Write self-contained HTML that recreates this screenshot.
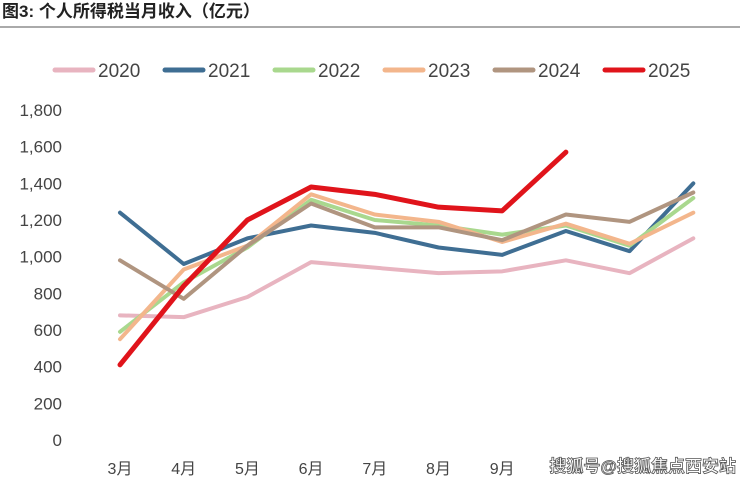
<!DOCTYPE html>
<html><head><meta charset="utf-8"><style>
body{margin:0;background:#fff;width:740px;height:483px;overflow:hidden;font-family:"Liberation Sans","Noto Sans CJK SC",sans-serif}
</style></head><body>
<svg id="chart" width="740" height="483" xmlns="http://www.w3.org/2000/svg">
<text x="2" y="17" font-size="17" font-weight="bold" fill="#222" font-family="Liberation Sans, Noto Sans CJK SC, sans-serif">图3:  个人所得税当月收入（亿元）</text>
<line x1="0" y1="27" x2="740" y2="27" stroke="#555" stroke-width="1"/>
<g id="legend"></g>
<g id="yaxis"></g>
<g id="xaxis"></g>
<g id="series"></g>
<rect x="540" y="452" width="200" height="26" fill="#fff"/>
<text x="736" y="472" text-anchor="end" font-size="17" font-weight="bold" fill="#fff" stroke="#555" stroke-width="0.8">搜狐号@搜狐焦点西安站</text>
</svg>
<script>
const categories=["3月","4月","5月","6月","7月","8月","9月","10月","11月","12月"];
const yTicks=[0,200,400,600,800,1000,1200,1400,1600,1800];
const seriesNames=["2020","2021","2022","2023","2024","2025"];
const seriesColors=["#e8b4c0","#3f6e93","#a9d88e","#f3b68c","#b09580","#e0141b"];
const s2020=[680,670,780,970,940,910,920,980,910,1100];
const s2021=[1240,960,1100,1170,1130,1050,1010,1140,1030,1400];
const s2022=[590,860,1050,1310,1200,1170,1120,1170,1060,1320];
const s2023=[550,930,1060,1340,1230,1190,1080,1180,1070,1240];
const s2024=[980,770,1060,1290,1160,1160,1090,1230,1190,1350];
const s2025=[410,840,1200,1380,1340,1270,1250,1570];
const allSeries=[s2020,s2021,s2022,s2023,s2024,s2025];
const NS="http://www.w3.org/2000/svg";
function xs(i){return 120+i*63.7;}
function ys(v){return 440-v*330/1800;}
function mk(t,a,p){const e=document.createElementNS(NS,t);for(const k in a)e.setAttribute(k,a[k]);p.appendChild(e);return e;}
const ya=document.getElementById('yaxis');
yTicks.forEach(v=>{const t=mk('text',{x:62,y:ys(v)+6,'text-anchor':'end','font-size':17,fill:'#444'},ya);t.textContent=v.toLocaleString('en-US');

});
const xa=document.getElementById('xaxis');
categories.forEach((c,i)=>{const t=mk('text',{x:xs(i),y:474,'text-anchor':'middle','font-size':16,fill:'#444'},xa);t.textContent=c;

});
const lg=document.getElementById('legend');
seriesNames.forEach((n,i)=>{const x=55+i*110;
const l=mk('line',{x1:x,y1:70,x2:x+38,y2:70,stroke:seriesColors[i],'stroke-width':5,'stroke-linecap':'round'},lg);


const t=mk('text',{x:x+43,y:77,'font-size':19,fill:'#444'},lg);t.textContent=n;

});
const sg=document.getElementById('series');
allSeries.forEach((d,k)=>{const pts=d.map((v,i)=>xs(i)+','+ys(v)).join(' ');
const p=mk('polyline',{points:pts,fill:'none',stroke:seriesColors[k],'stroke-width':k==5?5:4,'stroke-linejoin':'round','stroke-linecap':'round'},sg);

});
</script>
</body></html>
